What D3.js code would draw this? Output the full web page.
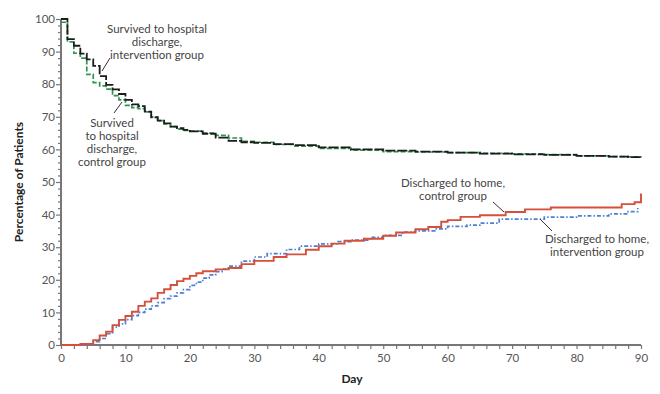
<!DOCTYPE html>
<html>
<head>
<meta charset="utf-8">
<title>Survival and discharge</title>
<script src="https://cdn.jsdelivr.net/npm/d3@7"></script>
<style>
body { margin: 0; background: #fff; }
text { font-family: Lato, 'Open Sans', sans-serif; }
.tick text { fill: #555; font-size: 11.5px; }
.note { fill: #444; font-size: 11.5px; }
.axTitle { fill: #222; font-size: 12px; font-weight: bold; }
</style>
</head>
<body>
<script>
// step curves: [day, percent]
var survIntervention = [[0,100],[1,93.8],[2,91.8],[3,89.4],[4,87.6],[5,85.6],[6,82.5],[7,79.8],[8,78.4],[9,77],[10,75.2],[11,73.8],[12,73.3],[13,71.6],[14,69.8],[15,68.8],[16,68],[17,67],[18,66.5],[19,66],[20,65.5],[22,64.8],[24,63.6],[26,62.6],[28,62.2],[30,62],[33,61.6],[36,61.3],[40,60.6],[45,60],[50,59.6],[55,59.3],[60,59],[65,58.7],[70,58.5],[75,58.3],[80,58],[85,57.8],[88,57.6],[90,57.5]];
var survControl = [[0,99],[1,93],[2,89.5],[3,88],[4,83],[5,80.5],[6,79.5],[7,78.5],[8,76.5],[9,75.2],[10,73.5],[11,72.8],[12,72.5],[13,71.5],[14,70],[15,68.8],[16,67.8],[17,67],[18,66.2],[19,65.8],[20,65.6],[22,65],[24,64.3],[26,63.5],[28,62.5],[30,62.2],[33,61.5],[36,61],[40,60.3],[45,59.8],[50,59.3],[55,59.2],[60,59],[65,58.8],[70,58.6],[75,58.4],[80,58],[85,57.8],[88,57.7],[90,57.6]];
var homeControl = [[0,0],[3,0.3],[5,1.5],[6,2.9],[7,4.1],[8,6.1],[9,7.7],[10,8.9],[11,10.2],[12,12],[13,13.3],[14,14.3],[15,16],[16,17.1],[17,18.4],[18,19.6],[19,20.3],[20,21.2],[21,22],[22,22.6],[24,23.2],[26,23.6],[28,24.8],[30,25.8],[33,27],[35,27.8],[38,29.2],[40,30.3],[42,31.1],[44,32],[47,32.6],[50,33.5],[52,34.5],[55,35.5],[57,36.2],[59,37.8],[60,38.3],[62,39.3],[65,39.8],[69,40.8],[72,41.6],[76,42.2],[87,43.2],[89,43.8],[90,46.5]];
var homeIntervention = [[0,0],[5,1],[6,2],[7,3.5],[8,5.5],[9,6.5],[10,7.8],[11,9],[12,10],[13,11],[14,12],[15,13],[16,14.2],[17,15],[18,16],[19,17],[20,18.3],[21,19.3],[22,20.5],[23,21.5],[24,22.5],[25,23.3],[26,24.2],[28,25.7],[30,27],[32,28],[35,29.3],[37,30.3],[40,31],[43,31.7],[45,32.2],[48,33],[50,33.6],[53,34.6],[55,35],[58,35.6],[60,36.4],[63,36.8],[65,37.4],[68,38.6],[75,39.2],[80,39.6],[85,40.2],[88,40.9],[89.5,42]];
var xTicks = [0,10,20,30,40,50,60,70,80,90];
var yTicks = [0,10,20,30,40,50,60,70,80,90,100];

var w = 660, h = 394;
var svg = d3.select("body").append("svg").attr("width", w).attr("height", h);

var x = d3.scaleLinear().domain([0, 90]).range([61, 641]);
var y = d3.scaleLinear().domain([0, 100]).range([345, 19]);

// axes
var xAxis = svg.append("g").attr("transform", "translate(0,345)");
xAxis.call(d3.axisBottom(x).tickValues(d3.range(0, 91, 2)).tickSize(4).tickFormat(function(d){ return xTicks.indexOf(d) >= 0 ? d : ""; }));
var yAxis = svg.append("g").attr("transform", "translate(61,0)");
yAxis.call(d3.axisLeft(y).tickValues(d3.range(0, 101, 2)).tickSize(3).tickFormat(function(d){ return yTicks.indexOf(d) >= 0 ? d : ""; }));
yAxis.selectAll(".tick line").filter(function(d){ return yTicks.indexOf(d) >= 0; }).attr("x2", -5);
svg.selectAll(".domain").attr("stroke", "#777").attr("stroke-width", 2);
svg.selectAll(".tick line").attr("stroke", "#777").attr("stroke-width", 1.2);
yAxis.selectAll(".domain").attr("d", "M0," + y(100) + "V" + y(0));
xAxis.selectAll(".domain").attr("d", "M" + x(0) + ",0H" + x(90));
xAxis.selectAll(".tick text").attr("dy", "0.9em");
yAxis.selectAll(".tick text").attr("x", -6);

var line = d3.line().x(function(d){ return x(d[0]); }).y(function(d){ return y(d[1]); }).curve(d3.curveStepAfter);

svg.append("path").attr("d", line(survControl)).attr("fill", "none").attr("stroke", "#2f9452").attr("stroke-width", 1.7).attr("stroke-dasharray", "5,2");
svg.append("path").attr("d", line(survIntervention)).attr("fill", "none").attr("stroke", "#1c1c1c").attr("stroke-width", 1.8).attr("stroke-dasharray", "10,2");
svg.append("path").attr("d", line(homeIntervention)).attr("fill", "none").attr("stroke", "#4d7fd4").attr("stroke-width", 1.7).attr("stroke-dasharray", "4,2,1.5,2");
svg.append("path").attr("d", line(homeControl)).attr("fill", "none").attr("stroke", "#d4503a").attr("stroke-width", 1.9);

// annotations
function note(lines, cx, y0, lh) {
  var t = svg.append("text").attr("class", "note").attr("text-anchor", "middle");
  lines.forEach(function(s, i){ t.append("tspan").attr("x", cx).attr("y", y0 + i * lh).text(s); });
}
function leader(x1, y1, x2, y2) {
  svg.append("line").attr("x1", x1).attr("y1", y1).attr("x2", x2).attr("y2", y2).attr("stroke", "#333").attr("stroke-width", 1);
}
note(["Survived to hospital", "discharge,", "intervention group"], 157, 33, 13);
leader(110, 58, 102, 71);
note(["Survived", "to hospital", "discharge,", "control group"], 112, 127, 13);
leader(122, 102, 114, 113);
note(["Discharged to home,", "control group"], 453, 187, 13);
leader(493, 202, 504, 212);
note(["Discharged to home,", "intervention group"], 597, 243, 13);
leader(540, 219, 552, 231);

svg.append("text").attr("class", "axTitle").attr("text-anchor", "middle")
  .attr("transform", "translate(23," + y(50) + ") rotate(-90)").text("Percentage of Patients");
svg.append("text").attr("class", "axTitle").attr("text-anchor", "middle").attr("x", 352).attr("y", 383).text("Day");
</script>
</body>
</html>
